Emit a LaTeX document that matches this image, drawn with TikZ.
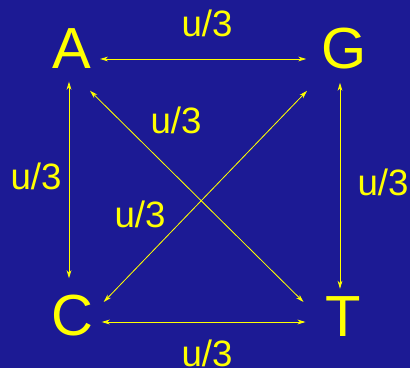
\documentclass[tikz,border=0pt]{standalone}
\usepackage{fontspec}
\setmainfont{Liberation Sans}
\usepackage{tikz}
\usetikzlibrary{arrows.meta,calc}
\definecolor{slideblue}{RGB}{28,26,148}
\definecolor{slideyellow}{RGB}{255,255,0}

\begin{document}
\begin{tikzpicture}[x=0.75pt,y=-0.75pt,
    >={Stealth[length=6pt,width=3.6pt,inset=1.8pt]},
    nuc/.style={text=slideyellow, inner sep=0pt, font=\fontsize{43.5}{44}\selectfont},
    ratelabel/.style={text=slideyellow, inner sep=0pt, font=\fontsize{27.5}{28}\selectfont},
    link/.style={<->, draw=slideyellow, fill=slideyellow, line width=0.6pt}]
    \fill[slideblue] (0,0) rectangle (410,368);
    % the four bases
    \node[nuc] (A) at (71.5,48.5) {A};
    \node[nuc] (G) at (344,49) {G};
    \node[nuc] (C) at (72.5,316) {C};
    \node[nuc] (T) at (343.5,317) {T};
    % rates
    \node[ratelabel] (uAG) at (207,23.5) {u/3};
    \node[ratelabel] (uCT) at (207,353) {u/3};
    \node[ratelabel] (uAC) at (36,176) {u/3};
    \node[ratelabel] (uGT) at (383,182) {u/3};
    \node[ratelabel] (uAT) at (176,120) {u/3};
    \node[ratelabel] (uGC) at (140,214) {u/3};
    % transitions
    \draw[link] ($(A.east)+(9,10.5)$) -- ($(G.west)+(-15,10)$);
    \draw[link] ($(C.east)+(8,6)$) -- ($(T.west)+(-20,5)$);
    \draw[link] ($(A.south)+(-2.5,13)$) -- ($(C.north)+(-3.5,-17)$);
    \draw[link] ($(G.south)+(-4,13)$) -- ($(T.north)+(-3.5,-8)$);
    \draw[link] ($(A.south)+(18.5,22)$) -- ($(T.west)+(-22,-15)$);
    \draw[link] ($(G.south)+(-37,21)$) -- ($(C.east)+(10,-14)$);
\end{tikzpicture}
\end{document}
